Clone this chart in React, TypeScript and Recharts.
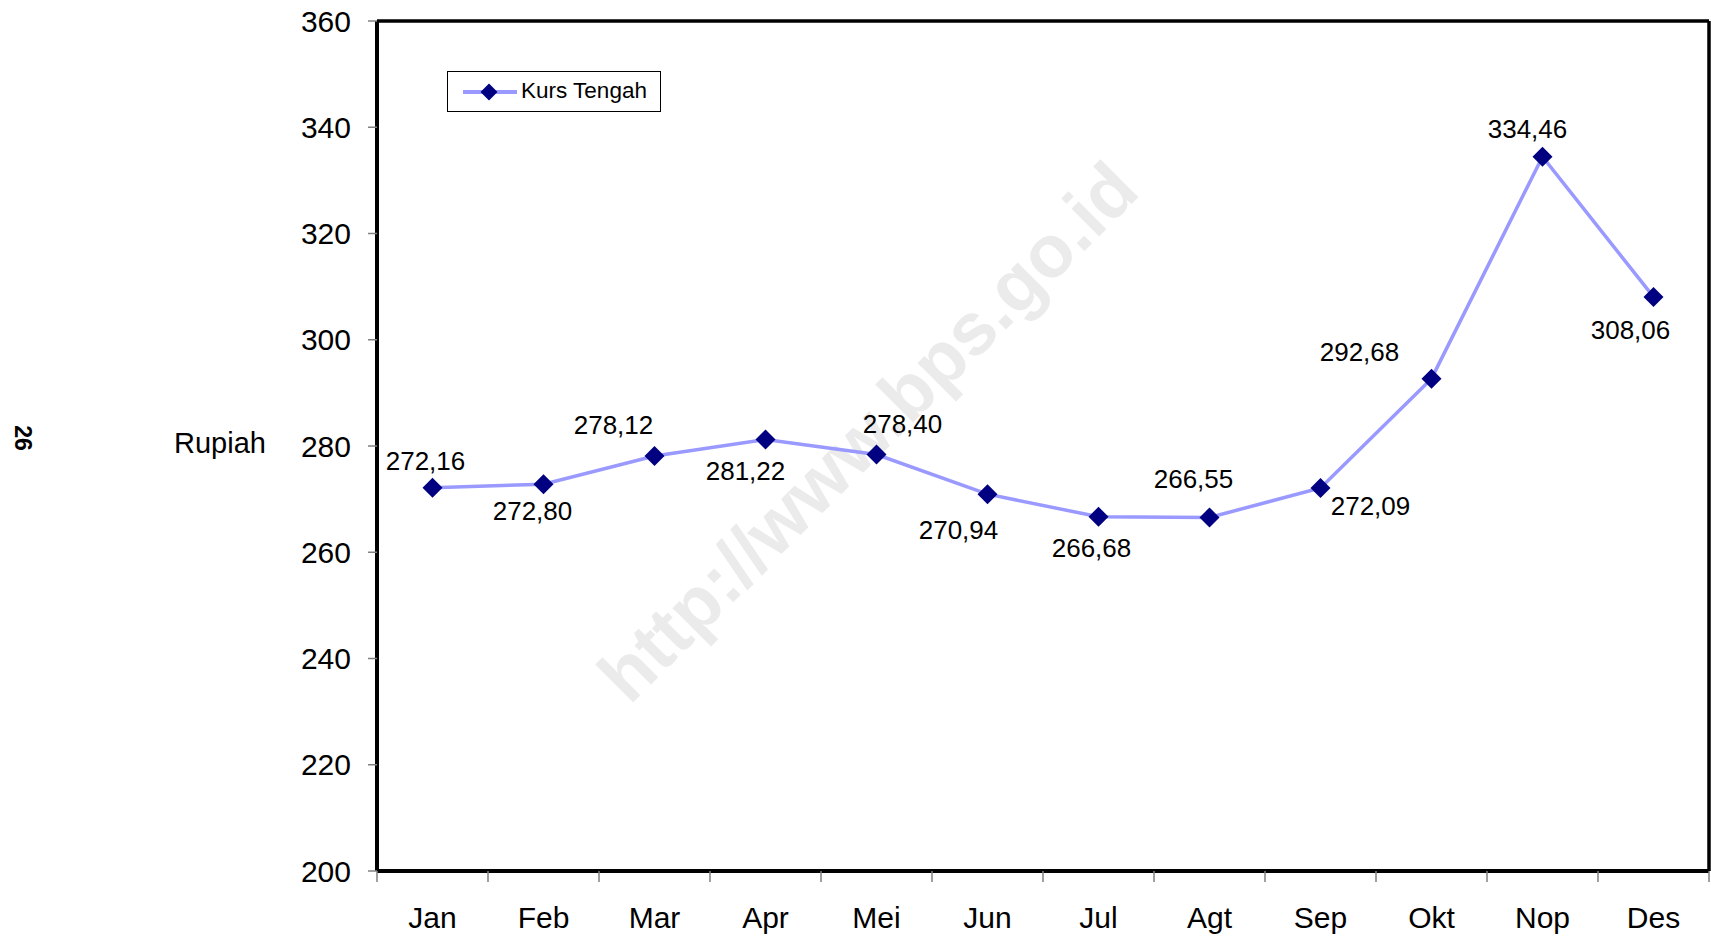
import React from "react";
import { LineChart, Line, XAxis, YAxis, Legend, LabelList } from "recharts";

const months = ["Jan", "Feb", "Mar", "Apr", "Mei", "Jun", "Jul", "Agt", "Sep", "Okt", "Nop", "Des"];
const kursTengah = [272.16, 272.8, 278.12, 281.22, 278.4, 270.94, 266.68, 266.55, 272.09, 292.68, 334.46, 308.06];
const yTicks = [200, 220, 240, 260, 280, 300, 320, 340, 360];

// where each value label sits relative to its point (dx, dy)
const labelOffsets = [
  [-7, -27], [-11, 26], [-41, -31], [-20, 31], [26, -31], [-29, 36],
  [-7, 31], [-16, -39], [50, 18], [-72, -27], [-15, -28], [-23, 33],
];

const data = months.map((m, i) => ({ month: m, kurs: kursTengah[i] }));

const FONT = "'Liberation Sans', Arial, Helvetica, sans-serif";
const LINE_COLOR = "#9999ff";
const DOT_COLOR = "#000080";
const TICK_MARGIN_X = 36;

const fmt = (v: number) => v.toFixed(2).replace(".", ",");

const Diamond = ({ cx, cy, r = 10 }: { cx?: number; cy?: number; r?: number }) => {
  if (typeof cx !== "number" || typeof cy !== "number") return null;
  return (
    <polygon
      points={`${cx},${cy - r} ${cx + r},${cy} ${cx},${cy + r} ${cx - r},${cy}`}
      fill={DOT_COLOR}
    />
  );
};

const ValueLabel = (props: any) => {
  const { x, y, value, index } = props;
  if (typeof x !== "number" || typeof y !== "number") return null;
  const [dx, dy] = labelOffsets[index] || [0, -25];
  return (
    <text
      x={x + dx}
      y={y + dy}
      dy="0.36em"
      textAnchor="middle"
      fontSize={26}
      fontFamily={FONT}
      fill="#000"
    >
      {fmt(Number(value))}
    </text>
  );
};

// month label plus Excel-style tick marks on the band boundaries
const MonthTick = (props: any) => {
  const { x, y, payload, index, visibleTicksCount } = props;
  const half = payload && typeof payload.offset === "number" ? payload.offset : 0;
  const axisY = y - TICK_MARGIN_X;
  const last = typeof visibleTicksCount === "number" ? index === visibleTicksCount - 1 : index === months.length - 1;
  return (
    <g>
      <line x1={x - half} y1={axisY} x2={x - half} y2={axisY + 11} stroke="#808080" strokeWidth={1.5} />
      {last && (
        <line x1={x + half} y1={axisY} x2={x + half} y2={axisY + 11} stroke="#808080" strokeWidth={1.5} />
      )}
      <text x={x} y={y} dy="0.71em" textAnchor="middle" fontSize={30} fontFamily={FONT} fill="#000">
        {payload.value}
      </text>
    </g>
  );
};

const LegendBox = () => (
  <div
    style={{
      width: 214,
      height: 41,
      boxSizing: "border-box",
      border: "1px solid #000",
      background: "#fff",
      position: "relative",
      fontFamily: FONT,
      fontSize: 22.5,
      color: "#000",
    }}
  >
    <svg width={70} height={39} style={{ position: "absolute", left: 0, top: 0 }}>
      <line x1={15} y1={20} x2={69} y2={20} stroke={LINE_COLOR} strokeWidth={4} />
      <Diamond cx={41} cy={20} r={8.5} />
    </svg>
    <span style={{ position: "absolute", left: 73, top: 6, whiteSpace: "nowrap" }}>Kurs Tengah</span>
  </div>
);

export default function App() {
  return (
    <div
      style={{
        position: "absolute",
        left: 0,
        top: 0,
        width: 1711,
        height: 939,
        background: "#fff",
        fontFamily: FONT,
      }}
    >
      {/* watermark and page number behind the chart */}
      <svg width={1711} height={939} style={{ position: "absolute", left: 0, top: 0 }}>
        <text
          x={867}
          y={431}
          dy="0.36em"
          textAnchor="middle"
          fontSize={74}
          fontWeight="bold"
          fontFamily={FONT}
          fill="#ebebeb"
          transform="rotate(-45, 867, 431)"
        >
          http://www.bps.go.id
        </text>
        <text
          x={23}
          y={438}
          dy="0.36em"
          textAnchor="middle"
          fontSize={23}
          fontWeight="bold"
          fontFamily={FONT}
          fill="#000"
          transform="rotate(90, 23, 438)"
        >
          26
        </text>
      </svg>

      <div style={{ position: "absolute", left: 0, top: 0 }}>
        <LineChart width={1711} height={939} data={data} margin={{ top: 20, right: 1, bottom: 0, left: 0 }}>
          <XAxis
            dataKey="month"
            scale="band"
            tickLine={false}
            tickSize={0}
            tickMargin={TICK_MARGIN_X}
            axisLine={{ stroke: "#000", strokeWidth: 4 }}
            tick={<MonthTick />}
            height={68}
            interval={0}
          />
          <XAxis
            xAxisId="top"
            dataKey="month"
            scale="band"
            orientation="top"
            height={1}
            tick={false}
            tickLine={false}
            axisLine={{ stroke: "#000", strokeWidth: 3.5 }}
          />
          <YAxis
            domain={[200, 360]}
            ticks={yTicks}
            width={377}
            tickSize={9}
            tickMargin={17}
            tickLine={{ stroke: "#808080", strokeWidth: 1.5 }}
            axisLine={{ stroke: "#000", strokeWidth: 4 }}
            tick={{ fontSize: 30, fill: "#000", fontFamily: FONT }}
            label={{
              value: "Rupiah",
              position: "insideLeft",
              offset: 174,
              fontSize: 29,
              fill: "#000",
              fontFamily: FONT,
              dy: -3,
            }}
          />
          <YAxis
            yAxisId="right"
            orientation="right"
            domain={[200, 360]}
            width={1}
            tick={false}
            tickLine={false}
            axisLine={{ stroke: "#000", strokeWidth: 3.5 }}
          />
          <Legend
            layout="vertical"
            align="center"
            verticalAlign="middle"
            content={<LegendBox />}
            wrapperStyle={{ left: 447, top: 71, width: 214 }}
          />
          <Line
            dataKey="kurs"
            name="Kurs Tengah"
            type="linear"
            stroke={LINE_COLOR}
            strokeWidth={3.5}
            dot={(p: any) => <Diamond key={`d-${p.index}`} cx={p.cx} cy={p.cy} r={10} />}
            activeDot={false}
            isAnimationActive={false}
          >
            <LabelList dataKey="kurs" content={<ValueLabel />} />
          </Line>
        </LineChart>
      </div>
    </div>
  );
}
